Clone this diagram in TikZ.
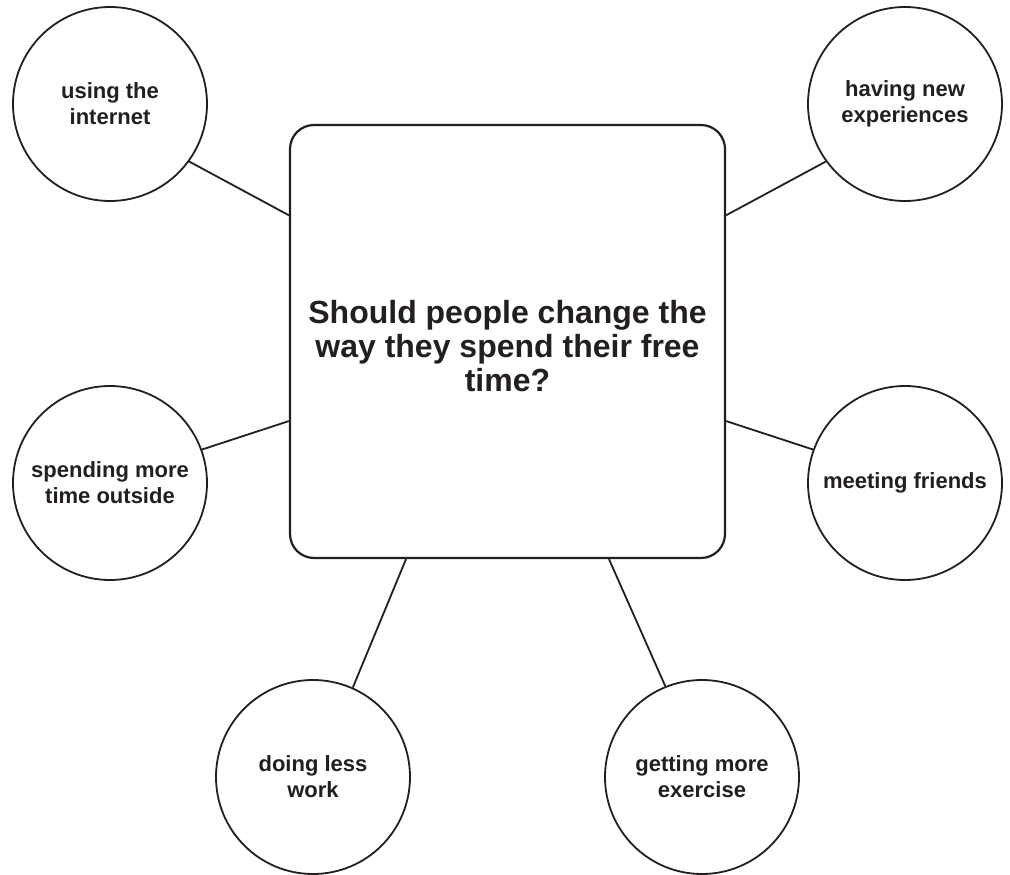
\documentclass[tikz,border=0pt]{standalone}
\usepackage{fontspec}
\setmainfont{Liberation Sans}
\definecolor{ink}{HTML}{231F20}
\begin{document}
\begin{tikzpicture}[x=1pt,y=-1pt,
  bubble/.style={circle,draw=ink,line width=1.8pt,minimum size=194pt,inner sep=0pt,
    align=center,text=ink,font=\bfseries\fontsize{22}{26}\selectfont},
  mainbox/.style={rectangle,draw=ink,line width=2.2pt,rounded corners=24pt,
    minimum width=435pt,minimum height=433pt,inner sep=0pt,align=center,text=ink,
    font=\bfseries\fontsize{32}{34}\selectfont},
  link/.style={draw=ink,line width=1.8pt}]
\useasboundingbox (0,0) rectangle (1010,875);
\fill[white] (0,0) rectangle (1010,875);
\node[mainbox] (box) at (507.5,341.5) {};
\node[text=ink,align=center,font=\bfseries\fontsize{32}{34}\selectfont] (q) at (507.5,346) {Should people change the\\way they spend their free\\time?};
\node[bubble] (c1) at (110,104) {using the\\internet};
\node[bubble] (c2) at (905,104) {having new\\experiences};
\node[bubble] (c3) at (110,483) {spending more\\time outside};
\node[bubble] (c4) at (905,483) {meeting friends};
\node[bubble] (c5) at (313,777) {doing less\\work};
\node[bubble] (c6) at (702,777) {getting more\\exercise};
\draw[link] (box.150) -- (c1.-36);
\draw[link] (box.30) -- (c2.-144);
\draw[link] (box.200) -- (c3.20);
\draw[link] (box.340) -- (c4.160);
\draw[link] (box.245.8) -- (c5.66);
\draw[link] (box.295) -- (c6.112);
\end{tikzpicture}
\end{document}
